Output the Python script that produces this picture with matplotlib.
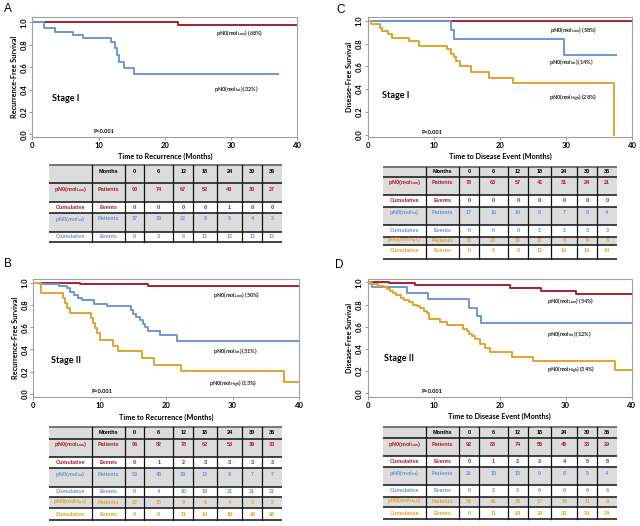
import matplotlib
matplotlib.use('Agg')
import matplotlib.pyplot as plt
from matplotlib.patches import Rectangle

plt.rcParams['font.family'] = ['Lato', 'DejaVu Sans']
plt.rcParams['mathtext.default'] = 'regular'

RED = '#A8202C'
BLUE = '#6C97D6'
GOLD = '#E2A42E'

months = [0, 6, 12, 18, 24, 30, 36]

# A: stage I, recurrence
a_low_t = [0, 22.0, 40]
a_low_s = [1.0, 0.98, 0.98]
a_int_t = [0, 1.8, 3.5, 6.1, 7.6, 11.9, 12.5, 12.8, 13.1, 13.8, 15.3, 37.1]
a_int_s = [1.0, 0.95, 0.917, 0.89, 0.857, 0.824, 0.77, 0.71, 0.645, 0.59, 0.54, 0.54]

# B: stage II, recurrence
b_low_t = [0, 3.3, 7.0, 17.3, 40]
b_low_s = [1.0, 0.995, 0.985, 0.972, 0.972]
b_int_t = [0, 1.0, 3.8, 5.0, 5.6, 6.2, 6.8, 7.3, 9.1, 11.1, 14.7, 15.0, 15.5, 16.0, 16.5, 16.8, 17.3, 19.0, 21.6, 40]
b_int_s = [1.0, 0.985, 0.97, 0.95, 0.92, 0.89, 0.86, 0.84, 0.81, 0.79, 0.75, 0.72, 0.69, 0.66, 0.63, 0.60, 0.57, 0.53, 0.48, 0.48]
b_high_t = [0, 1.2, 4.4, 4.8, 5.1, 5.5, 8.7, 9.0, 9.3, 9.6, 10.0, 12.0, 12.8, 16.3, 18.2, 22.2, 37.8, 40]
b_high_s = [1.0, 0.91, 0.86, 0.82, 0.77, 0.727, 0.68, 0.636, 0.59, 0.545, 0.486, 0.435, 0.384, 0.324, 0.264, 0.21, 0.11, 0.11]

# C: stage I, disease event
c_low_t = [0, 40]
c_low_s = [1.0, 1.0]
c_int_t = [0, 12.6, 13.1, 29.7, 37.6]
c_int_s = [1.0, 0.92, 0.84, 0.70, 0.70]
c_high_t = [0, 0.5, 1.8, 2.2, 3.0, 3.7, 6.3, 7.8, 12.0, 12.6, 13.0, 13.4, 14.0, 15.6, 18.3, 22.0, 37.3]
c_high_s = [1.0, 0.97, 0.94, 0.91, 0.88, 0.85, 0.82, 0.78, 0.75, 0.71, 0.68, 0.65, 0.60, 0.55, 0.50, 0.45, 0.0]

# D: stage II, disease event
d_low_t = [0, 3.2, 7.1, 21.6, 26.3, 31.5, 40]
d_low_s = [1.0, 0.99, 0.973, 0.952, 0.92, 0.894, 0.894]
d_int_t = [0, 0.6, 6.0, 9.1, 15.4, 16.6, 17.2, 40]
d_int_s = [1.0, 0.955, 0.90, 0.846, 0.773, 0.70, 0.634, 0.634]
d_high_t = [0, 0.4, 1.5, 2.5, 3.0, 3.4, 3.8, 4.3, 5.0, 5.5, 6.2, 6.8, 7.5, 8.0, 8.6, 9.0, 9.3,
            11.0, 12.0, 14.5, 15.0, 15.4, 15.8, 16.2, 17.0, 17.8, 18.5, 21.8, 25.1, 37.5, 40]
d_high_s = [1.0, 0.985, 0.97, 0.955, 0.94, 0.925, 0.905, 0.885, 0.86, 0.84, 0.82, 0.80, 0.785, 0.77, 0.745, 0.72, 0.674,
            0.644, 0.614, 0.584, 0.56, 0.538, 0.515, 0.493, 0.448, 0.41, 0.372, 0.326, 0.296, 0.21, 0.21]

# at-risk tables
a_low_pts = [90, 74, 67, 52, 40, 30, 27]
a_low_ev = [0, 0, 0, 0, 1, 0, 0]
a_int_pts = [37, 30, 22, 8, 5, 4, 3]
a_int_ev = [0, 3, 6, 12, 12, 12, 12]

b_low_pts = [96, 82, 78, 62, 53, 39, 33]
b_low_ev = [0, 1, 2, 3, 3, 3, 3]
b_int_pts = [53, 45, 30, 13, 9, 7, 7]
b_int_ev = [0, 4, 10, 19, 21, 21, 21]
b_high_pts = [22, 15, 9, 6, 4, 3, 2]
b_high_ev = [0, 6, 11, 14, 16, 16, 16]

c_low_pts = [78, 63, 57, 41, 31, 24, 21]
c_low_ev = [0, 0, 0, 0, 0, 0, 0]
c_int_pts = [17, 16, 14, 9, 7, 6, 4]
c_int_ev = [0, 0, 0, 2, 2, 3, 3]
c_high_pts = [33, 26, 19, 11, 8, 6, 6]
c_high_ev = [0, 5, 8, 12, 14, 14, 14]

d_low_pts = [92, 88, 74, 55, 45, 33, 29]
d_low_ev = [0, 1, 3, 3, 4, 5, 6]
d_int_pts = [21, 18, 13, 9, 8, 5, 4]
d_int_ev = [0, 2, 3, 6, 6, 6, 6]
d_high_pts = [56, 46, 30, 17, 15, 11, 9]
d_high_ev = [0, 11, 20, 29, 33, 34, 34]

LOW = r'pN0(mol$_{Low}$)'
INT = r'pN0(mol$_{Int}$)'
HIGH = r'pN0(mol$_{High}$)'

W, H = 640, 526
fig = plt.figure(figsize=(W / 100, H / 100), dpi=100)


def px_axes(left, top, right, bottom):
    return fig.add_axes([left / W, 1 - bottom / H, (right - left) / W, (bottom - top) / H])


def km_panel(box, curves, notes, xlabel, ylabel, stage, stage_xy, p_xy, ylim):
    ax = px_axes(*box)
    for t, s, c in curves:
        ax.step(t, s, where='post', color=c, lw=1.4)
    for txt, x, y in notes:
        ax.text(x, y, txt, fontsize=4, fontweight='bold', color='#222222')
    ax.text(stage_xy[0], stage_xy[1], stage, fontsize=6.5, fontweight='bold')
    ax.text(p_xy[0], p_xy[1], 'P<0.001', fontsize=4, fontweight='bold')
    ax.set_xlim(0, 40)
    ax.set_ylim(*ylim)
    ax.set_xticks([0, 10, 20, 30, 40])
    ax.set_yticks([0.0, 0.2, 0.4, 0.6, 0.8, 1.0])
    ax.set_yticklabels(['0.0', '0.2', '0.4', '0.6', '0.8', '1.0'], rotation=90, va='center')
    ax.tick_params(labelsize=5.5, length=2, width=0.6, pad=1.5, color='#888888')
    for lab in ax.get_xticklabels() + ax.get_yticklabels():
        lab.set_fontweight('bold')
    for sp in ax.spines.values():
        sp.set_color('#A0A0A0')
        sp.set_linewidth(0.8)
    ax.set_xlabel(xlabel, fontsize=5.2, fontweight='bold', labelpad=3)
    ax.set_ylabel(ylabel, fontsize=5.2, fontweight='bold', labelpad=2)
    return ax


col_edges = [0, 0.1825, 0.3257, 0.4088, 0.5336, 0.6196, 0.7203, 0.8305, 0.9165, 1.0]


def draw_table(box, row_h, groups):
    ax = px_axes(*box)
    ax.set_xlim(0, 1)
    ax.set_ylim(sum(row_h), 0)
    ax.axis('off')
    rows = [('', 'Months', months, 'black', True)]
    for name, pts, evs, col in groups:
        rows.append((name, 'Patients', pts, col, True))
        rows.append(('Cumulative', 'Events', evs, col, False))
    y = 0
    bounds = [0]
    for (lab, kind, vals, col, shaded), h in zip(rows, row_h):
        if shaded:
            ax.add_patch(Rectangle((0, y), 1, h, facecolor='#DCDCDC', edgecolor='none'))
        cells = [lab, kind] + [str(v) for v in vals]
        yc = y + min(h / 2, 6.0)
        for i, txt in enumerate(cells):
            xc = (col_edges[i] + col_edges[i + 1]) / 2
            ax.text(xc, yc, txt, ha='center', va='center', fontsize=4,
                    color=col, fontweight='bold', family=['Liberation Sans', 'DejaVu Sans'])
        y += h
        bounds.append(y)
    for i, b in enumerate(bounds):
        ax.plot([0, 1], [b, b], color='#555555' if i == 0 else '#111111', lw=1.1,
                solid_capstyle='butt', clip_on=False)
    for xe in col_edges[1:-1]:
        ax.plot([xe, xe], [0, y], color='#111111', lw=0.9, clip_on=False)


# Panel A
km_panel((32.3, 17.3, 297.3, 136.7),
         [(a_low_t, a_low_s, RED), (a_int_t, a_int_s, BLUE)],
         [(LOW + ' (68%)', 27.8, 0.89), (INT + ' (32%)', 27.4, 0.39)],
         'Time to Recurrence (Months)', 'Recurrence-Free Survival',
         'Stage I', (3.0, 0.30), (9.2, 0.015), (-0.02, 1.045))
draw_table((49.3, 165, 281.7, 242),
           [18, 18.5, 11.5, 18.5, 10.5],
           [(LOW, a_low_pts, a_low_ev, RED), (INT, a_int_pts, a_int_ev, BLUE)])

# Panel B
km_panel((33.3, 279.3, 299, 397.3),
         [(b_low_t, b_low_s, RED), (b_int_t, b_int_s, BLUE), (b_high_t, b_high_s, GOLD)],
         [(LOW + ' (50%)', 27.1, 0.875), (INT + ' (31%)', 27.1, 0.37), (HIGH + ' (13%)', 26.5, 0.07)],
         'Time to Recurrence (Months)', 'Recurrence-Free Survival',
         'Stage II', (2.6, 0.28), (8.8, 0.005), (-0.03, 1.03))
draw_table((49.3, 426.7, 281.7, 520),
           [12.3, 17.7, 11.7, 18.3, 10, 11.7, 11.7],
           [(LOW, b_low_pts, b_low_ev, RED), (INT, b_int_pts, b_int_ev, BLUE),
            (HIGH, b_high_pts, b_high_ev, GOLD)])

# Panel C
km_panel((367.7, 17.3, 632.3, 137),
         [(c_low_t, c_low_s, RED), (c_int_t, c_int_s, BLUE), (c_high_t, c_high_s, GOLD)],
         [(LOW + ' (58%)', 27.6, 0.905), (INT + ' (14%)', 27.4, 0.62), (HIGH + ' (28%)', 27.4, 0.30)],
         'Time to Disease Event (Months)', 'Disease-Free Survival',
         'Stage I', (2.1, 0.32), (8.2, 0.005), (-0.02, 1.03))
draw_table((383.3, 166.7, 616.7, 259),
           [10, 18.3, 11.7, 18.3, 11.7, 8.3, 14],
           [(LOW, c_low_pts, c_low_ev, RED), (INT, c_int_pts, c_int_ev, BLUE),
            (HIGH, c_high_pts, c_high_ev, GOLD)])

# Panel D
km_panel((367.7, 279, 631.7, 396.7),
         [(d_low_t, d_low_s, RED), (d_int_t, d_int_s, BLUE), (d_high_t, d_high_s, GOLD)],
         [(LOW + ' (54%)', 27.2, 0.81), (INT + ' (12%)', 27.1, 0.52), (HIGH + ' (34%)', 27.2, 0.195)],
         'Time to Disease Event (Months)', 'Disease-Free Survival',
         'Stage II', (2.4, 0.29), (8.2, 0.0), (-0.03, 1.03))
draw_table((383.3, 426.7, 616.7, 519.3),
           [11.7, 17.7, 11.3, 17.7, 11.7, 10.7, 12],
           [(LOW, d_low_pts, d_low_ev, RED), (INT, d_int_pts, d_int_ev, BLUE),
            (HIGH, d_high_pts, d_high_ev, GOLD)])

for letter, x, y in [('A', 8, 9), ('B', 8, 264), ('C', 341, 10), ('D', 339, 265)]:
    fig.text(x / W, 1 - y / H, letter, fontsize=8.5, ha='center', va='center',
             family=['Liberation Sans', 'DejaVu Sans'])

fig.savefig('out.png', dpi=100)
